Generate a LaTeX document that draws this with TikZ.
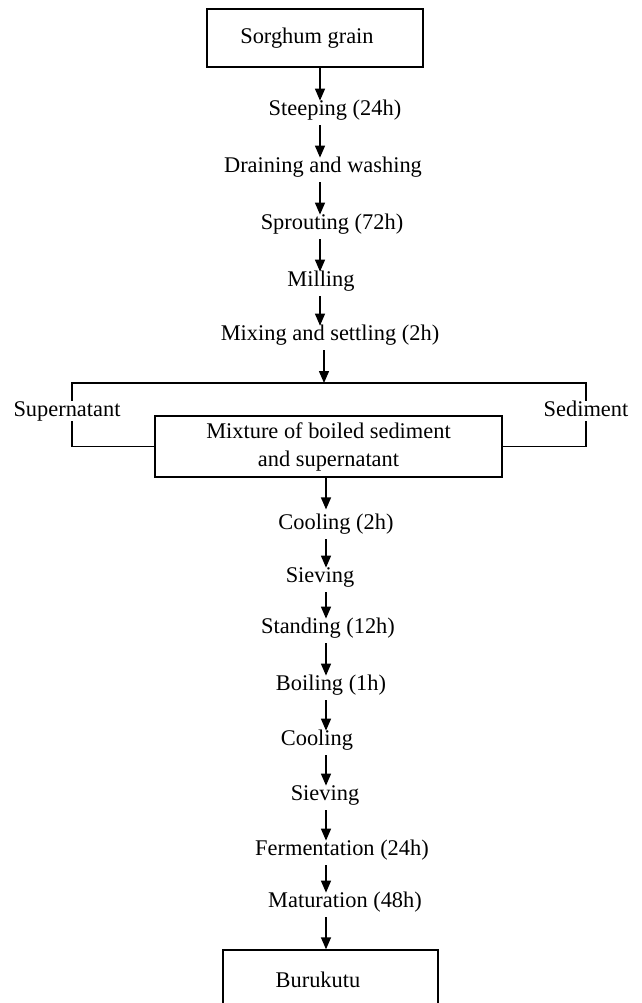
\documentclass[tikz,border=0pt]{standalone}
\usepackage{fontspec}
\setmainfont{Liberation Serif}
\usetikzlibrary{arrows.meta}

\begin{document}
\begin{tikzpicture}[x=0.5pt, y=-0.5pt,
    every node/.style={font=\fontsize{11.2}{14}\selectfont},
    stage/.style={inner sep=0pt, text height=9.8pt, text depth=2.4pt},
    box/.style={draw, line width=0.7pt, inner sep=0pt, align=center},
    flow/.style={-{Triangle[length=6pt,width=5pt]}, line width=0.7pt, shorten >=-2.6pt},
    fromstage/.style={flow, shorten <=2.4pt}]
\useasboundingbox (0,0) rectangle (642,1003);

% arrow columns
\coordinate (upcol) at (320,0);
\coordinate (lowcol) at (326,0);

\node[box, minimum width=108pt, minimum height=29pt] (grain) at (315,38) {Sorghum grain\hspace*{8pt}};
\node[stage] (steep) at (335,108) {Steeping (24h)};
\node[stage] (drain) at (323,165) {Draining and washing};
\node[stage] (sprout) at (332,222) {Sprouting (72h)};
\node[stage] (mill) at (321,279) {Milling};
\node[stage] (mix) at (330,333) {Mixing and settling (2h)};

% split into supernatant and sediment
\coordinate (split) at (324,383);
\coordinate (tl) at (72,383);
\coordinate (tr) at (586,383);
\node[box, minimum width=173.5pt, minimum height=30.5pt] (mixture) at (328.5,446.5)
    {Mixture of boiled sediment\\and supernatant};
\draw[line width=0.7pt] (mixture.west) -| (tl) -- (tr) |- (mixture.east);
\node[stage, fill=white, text height=8pt, text depth=2.4pt] (super) at (67,411) {Supernatant};
\node[stage, fill=white, text height=8pt, text depth=2.4pt] (sedim) at (586,411) {Sediment};

\node[stage] (cool1) at (336,522) {Cooling (2h)};
\node[stage] (siev1) at (320,575) {Sieving};
\node[stage] (stand) at (328,626) {Standing (12h)};
\node[stage] (boil) at (331,683) {Boiling (1h)};
\node[stage] (cool2) at (317,738) {Cooling};
\node[stage] (siev2) at (325,793) {Sieving};
\node[stage] (ferm) at (342,848) {Fermentation (24h)};
\node[stage] (matur) at (345,900) {Maturation (48h)};
\node[box, minimum width=107.5pt, minimum height=30pt] (buru) at (330.5,980) {Burukutu\hspace*{12.5pt}};

\draw
(grain.south -| upcol) edge[flow] (steep.north -| upcol)
(steep.south -| upcol) edge[fromstage] (drain.north -| upcol)
(drain.south -| upcol) edge[fromstage] (sprout.north -| upcol)
(sprout.south -| upcol) edge[fromstage] (mill.north -| upcol)
(mill.south -| upcol) edge[fromstage] (mix.north -| upcol)
(mix.south -| split) edge[fromstage, shorten >=0pt] (split)
(mixture.south -| lowcol) edge[flow, shorten >=0pt] (cool1.north -| lowcol)
(cool1.south -| lowcol) edge[fromstage] (siev1.north -| lowcol)
(siev1.south -| lowcol) edge[fromstage] (stand.north -| lowcol)
(stand.south -| lowcol) edge[fromstage] (boil.north -| lowcol)
(boil.south -| lowcol) edge[fromstage] (cool2.north -| lowcol)
(cool2.south -| lowcol) edge[fromstage] (siev2.north -| lowcol)
(siev2.south -| lowcol) edge[fromstage] (ferm.north -| lowcol)
(ferm.south -| lowcol) edge[fromstage] (matur.north -| lowcol)
(matur.south -| lowcol) edge[fromstage, shorten >=0pt] (buru.north -| lowcol);
\end{tikzpicture}
\end{document}
